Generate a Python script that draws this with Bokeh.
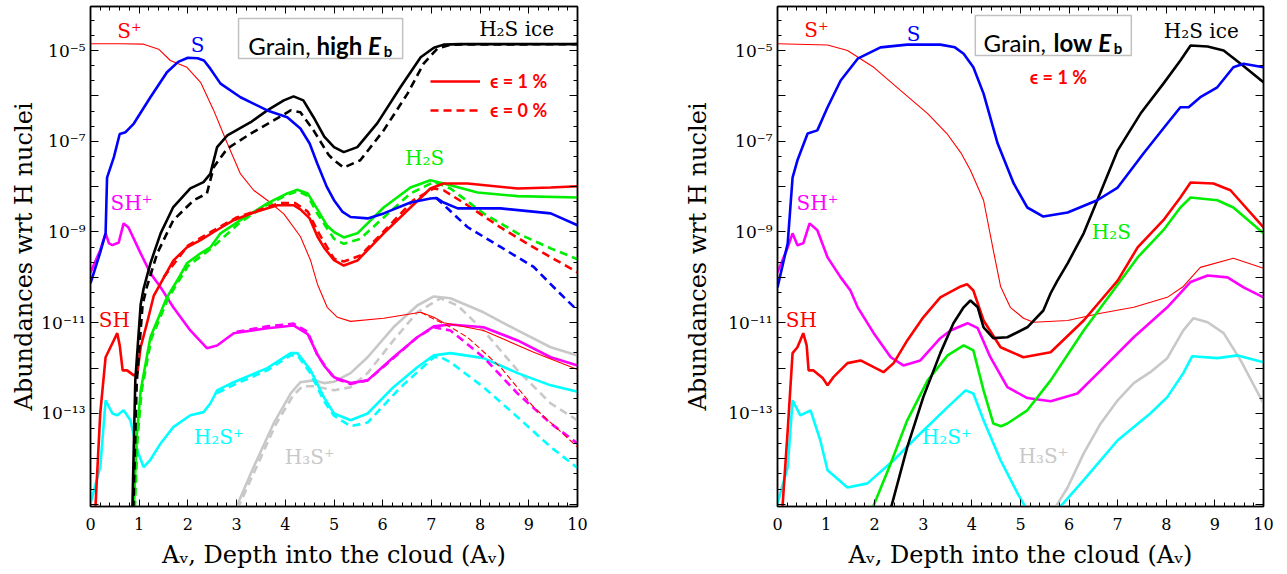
import numpy as np
from bokeh.plotting import figure
from bokeh.layouts import row
from bokeh.models import (FixedTicker, LinearAxis, LogAxis, CustomJSTickFormatter, Label,
                          BoxAnnotation, Legend, LegendItem, Range1d)
from bokeh.embed import file_html
from bokeh.resources import INLINE

# ---------------- data: (A_V, log10 abundance) ----------------
# Left panel: grain, high Eb  (solid: eps=1%, dashed: eps=0%)
HI_SP = [(0,-4.85),(0.6,-4.85),(1.09,-4.86),(1.4,-4.97),(1.64,-5.22),(1.98,-5.37),(2.26,-5.70),(2.53,-6.32),(2.81,-7.05),(3.08,-7.72),(3.35,-8.08),(3.63,-8.30),(3.97,-8.6),(4.31,-9.1),(4.52,-9.63),(4.66,-10.15),(4.86,-10.66),(5.07,-10.88),(5.34,-10.97),(6.02,-10.9),(6.37,-10.84),(6.78,-10.77),(7.05,-10.88),(7.25,-11.0),(8.07,-11.17),(9.1,-11.65),(10,-12.03)]
HI_SP_D = [(6.78,-10.77),(7.05,-10.92),(7.4,-11.1),(7.74,-11.32),(8.42,-11.98),(9.1,-12.86),(10,-13.74)]
HI_S = [(0,-10.13),(0.2,-9.45),(0.31,-9.03),(0.34,-7.8),(0.48,-7.35),(0.6,-6.84),(0.72,-6.8),(0.89,-6.61),(1.23,-6.03),(1.57,-5.48),(1.8,-5.25),(2.0,-5.16),(2.2,-5.17),(2.33,-5.22),(2.46,-5.4),(2.67,-5.73),(3.08,-6.03),(3.63,-6.32),(4.04,-6.47),(4.31,-6.72),(4.5,-7.05),(4.66,-7.5),(4.85,-8.0),(5.0,-8.3),(5.17,-8.55),(5.34,-8.67),(5.69,-8.7),(6.02,-8.59),(6.57,-8.35),(6.98,-8.26),(7.1,-8.25),(7.25,-8.35),(7.54,-8.48),(8.42,-8.48),(9.45,-8.59),(10,-8.85)]
HI_S_D = [(7.1,-8.25),(7.3,-8.45),(7.74,-8.89),(8.42,-9.33),(9.1,-9.77),(9.58,-10.29),(10,-10.73)]
HI_ICE = [(0.86,-15.1),(0.92,-12.27),(1.03,-10.6),(1.09,-10.25),(1.23,-9.69),(1.44,-9.03),(1.7,-8.45),(2.05,-8.04),(2.32,-7.9),(2.46,-7.72),(2.6,-7.13),(2.81,-6.87),(3.29,-6.58),(3.63,-6.32),(3.97,-6.1),(4.17,-6.01),(4.37,-6.1),(4.58,-6.47),(4.8,-6.9),(5.0,-7.13),(5.2,-7.24),(5.48,-7.13),(5.89,-6.6),(6.37,-5.8),(6.78,-5.15),(7.05,-4.94),(7.25,-4.87),(7.6,-4.86),(10,-4.86)]
HI_ICE_D = [(0.88,-15.1),(0.95,-12.3),(1.07,-10.6),(1.16,-10.2),(1.37,-9.47),(1.7,-8.74),(2.12,-8.3),(2.39,-8.15),(2.53,-7.57),(2.81,-7.16),(3.29,-6.83),(3.76,-6.54),(4.11,-6.32),(4.31,-6.36),(4.58,-6.76),(4.89,-7.3),(5.0,-7.42),(5.2,-7.58),(5.54,-7.42),(6.02,-6.76),(6.51,-5.95),(6.84,-5.29),(7.12,-4.96),(7.4,-4.87),(10,-4.86)]
HI_H2S = [(0.89,-15.1),(0.95,-13.5),(1.03,-12.5),(1.23,-11.32),(1.57,-10.44),(1.78,-10.07),(1.98,-9.69),(2.26,-9.47),(2.46,-9.34),(2.67,-9.03),(3.08,-8.74),(3.63,-8.37),(4.04,-8.15),(4.25,-8.07),(4.46,-8.15),(4.66,-8.5),(4.85,-8.85),(5.0,-9.0),(5.2,-9.12),(5.48,-9.03),(6.02,-8.46),(6.57,-8.02),(6.98,-7.86),(7.39,-7.97),(7.95,-8.13),(8.77,-8.21),(10,-8.24)]
HI_H2S_D = [(0.91,-15.1),(0.97,-13.5),(1.05,-12.5),(1.25,-11.35),(1.6,-10.45),(2.0,-9.75),(2.46,-9.38),(3.08,-8.78),(3.63,-8.4),(4.04,-8.18),(4.25,-8.1),(4.46,-8.2),(4.66,-8.6),(5.0,-9.15),(5.2,-9.26),(5.54,-9.15),(6.02,-8.68),(6.57,-8.15),(7.05,-7.9),(7.39,-8.04),(8.07,-8.59),(8.77,-9.03),(9.45,-9.36),(10,-9.6)]
HI_SH = [(0.1,-15.1),(0.2,-13.0),(0.31,-11.76),(0.41,-11.54),(0.55,-11.23),(0.6,-11.5),(0.66,-12.05),(0.75,-12.05),(0.89,-12.16),(0.96,-12.12),(1.03,-11.54),(1.16,-11.01),(1.3,-10.4),(1.44,-10.13),(1.7,-9.63),(1.98,-9.34),(2.26,-9.18),(2.53,-9.0),(2.94,-8.74),(3.35,-8.57),(3.84,-8.41),(4.17,-8.41),(4.31,-8.5),(4.5,-8.7),(4.66,-9.1),(4.8,-9.35),(5.0,-9.62),(5.2,-9.74),(5.48,-9.63),(6.02,-9.03),(6.57,-8.46),(6.98,-8.04),(7.25,-7.93),(7.74,-7.93),(8.77,-8.04),(9.45,-8.02),(10,-7.99)]
HI_SH_D = [(1.5,-10.0),(2.0,-9.3),(2.5,-8.98),(3.0,-8.68),(3.5,-8.5),(3.9,-8.36),(4.2,-8.36),(4.46,-8.55),(4.7,-9.05),(5.0,-9.59),(5.2,-9.65),(5.54,-9.52),(6.1,-8.9),(6.63,-8.3),(7.05,-8.04),(7.25,-8.08),(7.74,-8.41),(8.42,-8.9),(9.1,-9.34),(10,-9.89)]
HI_SHP = [(0,-9.89),(0.2,-9.4),(0.31,-9.03),(0.38,-9.25),(0.45,-9.29),(0.58,-9.23),(0.68,-8.81),(0.78,-8.9),(1.03,-9.47),(1.23,-9.91),(1.44,-10.22),(1.7,-10.66),(2.05,-11.17),(2.39,-11.56),(2.6,-11.5),(2.94,-11.23),(3.63,-11.12),(4.17,-11.06),(4.31,-11.15),(4.46,-11.25),(4.66,-11.7),(4.8,-11.95),(5.0,-12.2),(5.34,-12.33),(5.69,-12.27),(6.22,-11.76),(6.71,-11.32),(7.05,-11.08),(7.39,-11.04),(8.07,-11.1),(8.77,-11.39),(9.45,-11.76),(10,-11.94)]
HI_SHP_D = [(3.0,-11.2),(3.63,-11.08),(4.17,-11.02),(4.46,-11.2),(4.66,-11.72),(5.0,-12.22),(5.34,-12.35),(5.69,-12.27),(6.22,-11.78),(6.71,-11.32),(7.05,-11.1),(7.39,-11.17),(8.07,-11.76),(8.77,-12.56),(9.45,-13.22),(10,-13.66)]
HI_H2SP = [(0,-14.98),(0.2,-14.18),(0.31,-12.71),(0.45,-13.0),(0.55,-13.04),(0.68,-12.93),(0.82,-13.15),(0.96,-13.81),(1.09,-14.18),(1.23,-14.02),(1.44,-13.66),(1.7,-13.3),(2.05,-13.04),(2.32,-12.97),(2.46,-12.78),(2.6,-12.49),(2.94,-12.31),(3.63,-12.0),(4.11,-11.67),(4.25,-11.67),(4.52,-12.05),(4.79,-12.64),(5.0,-13.0),(5.34,-13.15),(5.69,-13.0),(6.22,-12.42),(6.71,-11.98),(7.05,-11.72),(7.39,-11.67),(8.07,-11.78),(8.77,-12.11),(9.45,-12.38),(10,-12.52)]
HI_H2SP_D = [(2.6,-12.55),(2.94,-12.37),(3.63,-12.05),(4.11,-11.72),(4.25,-11.72),(4.52,-12.12),(4.79,-12.72),(5.0,-13.05),(5.34,-13.28),(5.69,-13.2),(6.37,-12.42),(7.05,-11.76),(7.2,-11.76),(7.39,-11.87),(8.07,-12.42),(8.77,-13.08),(9.45,-13.74),(10,-14.2)]
HI_H3SP = [(2.98,-15.1),(3.35,-14.18),(3.76,-13.22),(4.11,-12.56),(4.31,-12.31),(4.58,-12.27),(4.8,-12.33),(5.0,-12.3),(5.34,-12.11),(5.69,-11.76),(6.22,-11.1),(6.71,-10.62),(7.05,-10.42),(7.39,-10.46),(8.07,-10.77),(8.77,-11.17),(9.45,-11.54),(10,-11.72)]
HI_H3SP_D = [(3.02,-15.1),(3.4,-14.2),(3.8,-13.25),(4.15,-12.62),(4.35,-12.4),(4.6,-12.4),(5.0,-12.49),(5.34,-12.42),(5.69,-12.11),(6.22,-11.39),(6.71,-10.77),(7.19,-10.46),(7.54,-10.62),(8.07,-11.17),(8.77,-12.05),(9.45,-12.78),(10,-13.15)]

# Right panel: grain, low Eb (eps=1%)
LO_SP = [(0,-4.85),(1.03,-4.88),(1.44,-5.0),(1.98,-5.37),(2.53,-5.88),(3.09,-6.39),(3.5,-6.85),(3.77,-7.25),(3.97,-7.64),(4.24,-8.3),(4.44,-9.4),(4.59,-10.2),(4.79,-10.66),(5.06,-10.9),(5.27,-10.99),(5.97,-10.95),(6.65,-10.79),(7.33,-10.66),(8.02,-10.44),(8.35,-10.2),(8.7,-9.78),(9.38,-9.58),(10,-9.8)]
LO_S = [(0,-10.22),(0.21,-9.25),(0.31,-7.8),(0.41,-7.42),(0.62,-6.83),(0.82,-6.76),(1.03,-6.25),(1.3,-5.66),(1.65,-5.18),(2.12,-4.93),(2.67,-4.87),(3.35,-4.87),(3.65,-4.93),(3.83,-5.07),(4.03,-5.37),(4.24,-5.95),(4.53,-7.05),(4.86,-7.93),(5.14,-8.46),(5.47,-8.66),(5.97,-8.57),(6.58,-8.3),(7.0,-8.02),(7.53,-7.27),(8.02,-6.61),(8.29,-6.25),(8.46,-6.25),(8.7,-6.03),(9.05,-5.81),(9.38,-5.37),(9.59,-5.29),(10,-5.37)]
LO_ICE = [(2.33,-15.1),(2.67,-13.74),(3.0,-12.64),(3.35,-11.67),(3.62,-11.01),(3.83,-10.66),(3.97,-10.51),(4.12,-10.66),(4.24,-11.1),(4.44,-11.34),(4.73,-11.32),(5.14,-11.1),(5.47,-10.73),(5.62,-10.35),(5.76,-10.07),(5.97,-9.69),(6.3,-9.03),(6.58,-8.3),(7.0,-7.2),(7.47,-6.39),(7.94,-5.73),(8.29,-5.22),(8.5,-4.89),(8.85,-4.91),(9.18,-5.0),(9.53,-5.29),(10,-5.7)]
LO_H2S = [(1.95,-15.1),(2.33,-14.1),(2.67,-13.15),(3.09,-12.27),(3.5,-11.72),(3.83,-11.5),(4.03,-11.61),(4.24,-12.49),(4.44,-13.22),(4.6,-13.28),(4.73,-13.22),(5.14,-12.93),(5.62,-12.27),(6.3,-11.17),(6.91,-10.29),(7.41,-9.56),(7.94,-8.96),(8.29,-8.46),(8.5,-8.24),(9.05,-8.3),(9.38,-8.46),(10,-9.03)]
LO_SH = [(0.1,-15.1),(0.21,-13.37),(0.31,-11.67),(0.41,-11.54),(0.53,-11.23),(0.6,-11.5),(0.64,-12.05),(0.74,-12.05),(0.93,-12.22),(1.03,-12.38),(1.15,-12.2),(1.44,-11.89),(1.71,-11.83),(1.98,-11.98),(2.18,-12.09),(2.39,-11.89),(2.67,-11.39),(3.0,-10.88),(3.35,-10.44),(3.77,-10.2),(3.9,-10.15),(4.03,-10.29),(4.24,-10.95),(4.59,-11.54),(5.06,-11.76),(5.62,-11.65),(6.3,-10.95),(7.0,-10.07),(7.41,-9.34),(7.94,-8.74),(8.29,-8.24),(8.5,-7.91),(8.97,-7.93),(9.32,-8.08),(10,-8.9)]
LO_SHP = [(0,-9.89),(0.21,-9.34),(0.31,-9.03),(0.41,-9.29),(0.53,-9.25),(0.66,-8.81),(0.82,-8.96),(1.03,-9.56),(1.3,-10.0),(1.5,-10.29),(1.65,-10.66),(1.98,-11.23),(2.33,-11.76),(2.59,-11.94),(2.94,-11.83),(3.35,-11.34),(3.56,-11.17),(3.91,-11.01),(4.12,-11.12),(4.38,-11.76),(4.73,-12.42),(5.14,-12.66),(5.62,-12.73),(6.17,-12.56),(6.65,-12.05),(7.33,-11.32),(8.02,-10.66),(8.5,-10.1),(8.85,-9.96),(9.26,-10.0),(9.59,-10.22),(10,-10.44)]
LO_H2SP = [(0,-14.98),(0.21,-14.18),(0.31,-12.71),(0.47,-13.04),(0.68,-12.93),(0.88,-13.59),(1.03,-14.25),(1.44,-14.63),(1.85,-14.54),(2.39,-14.03),(2.94,-13.44),(3.5,-12.86),(3.87,-12.49),(4.03,-12.56),(4.24,-13.15),(4.59,-14.03),(4.94,-14.76),(5.12,-15.1),(5.45,-15.6),(5.78,-15.1),(6.3,-14.47),(7.0,-13.59),(7.67,-13.0),(8.02,-12.64),(8.35,-12.11),(8.53,-11.74),(9.05,-11.78),(9.47,-11.72),(10,-11.87)]
LO_H3SP = [(5.7,-15.1),(5.97,-14.63),(6.3,-13.88),(6.65,-13.22),(7.0,-12.71),(7.33,-12.33),(7.67,-12.09),(8.02,-11.78),(8.35,-11.17),(8.56,-10.9),(8.85,-10.99),(9.18,-11.23),(9.53,-11.83),(10,-12.78)]

X_TICKS = list(range(0, 11))
Y_LABEL_EXP = [-5, -7, -9, -11, -13]

RED, BLUE, BLACK, GREEN = "#ff0000", "#0000ff", "#000000", "#00ee00"
MAGENTA, CYAN, GREY = "#ff00ff", "#00ffff", "#c8c8c8"

SERIF = "DejaVu Serif"
SANS = "Lato"

YLO, YHI = 10 ** -15.05, 10 ** -4.03


def xy(pairs):
    xs = [a for a, b in pairs]
    ys = [10.0 ** b for a, b in pairs]
    return xs, ys


def curve(p, pairs, color, width=2.6, dash="solid"):
    xs, ys = xy(pairs)
    return p.line(xs, ys, line_color=color, line_width=width, line_dash=dash)


fmt = CustomJSTickFormatter(args=dict(show=Y_LABEL_EXP), code="""
const e = Math.round(Math.log10(tick));
if (!show.includes(e)) { return ""; }
const m = {"-": "\\u207b", "0": "\\u2070", "1": "\\u00b9", "2": "\\u00b2", "3": "\\u00b3",
           "4": "\\u2074", "5": "\\u2075", "6": "\\u2076", "7": "\\u2077", "8": "\\u2078", "9": "\\u2079"};
return "10" + String(e).split("").map(c => m[c]).join("");
""")
blank = CustomJSTickFormatter(code='return "";')


def make_fig(left_border, right_border, frame_w, ylab_standoff):
    p = figure(x_range=Range1d(0, 10), y_range=Range1d(YLO, YHI), y_axis_type="log",
               frame_width=frame_w, frame_height=500,
               min_border_left=left_border, min_border_right=right_border,
               min_border_top=6, min_border_bottom=60,
               output_backend="svg", toolbar_location=None)
    p.grid.visible = False
    p.outline_line_color = "#222222"
    p.outline_line_width = 1.5
    p.background_fill_color = "white"

    xt = FixedTicker(ticks=X_TICKS, minor_ticks=[i * 0.2 for i in range(51)])
    dec = [10.0 ** k for k in range(-16, -3)]
    thirds = [10.0 ** (k / 3.0) for k in range(-48, -11) if k % 3 != 0]
    yt = FixedTicker(ticks=dec, minor_ticks=thirds)

    ax = p.xaxis[0]
    ax.ticker = xt
    ax.major_tick_in, ax.major_tick_out = 7, 0
    ax.minor_tick_in, ax.minor_tick_out = 4, 0
    ax.major_label_text_font = SERIF
    ax.major_label_text_font_size = "16px"
    ax.major_label_text_color = "black"
    ax.major_label_standoff = 11
    ax.axis_line_width = 1.5
    ax.axis_label = "A\u1d65, Depth into the cloud (A\u1d65)"
    ax.axis_label_text_font = SERIF
    ax.axis_label_text_font_size = "24px"
    ax.axis_label_text_font_style = "normal"
    ax.axis_label_text_color = "black"
    ax.axis_label_standoff = 8

    ay = p.yaxis[0]
    ay.ticker = yt
    ay.formatter = fmt
    ay.major_tick_in, ay.major_tick_out = 8, 0
    ay.minor_tick_in, ay.minor_tick_out = 4, 0
    ay.major_label_text_font = SERIF
    ay.major_label_text_font_size = "17px"
    ay.major_label_text_color = "black"
    ay.major_label_standoff = 5
    ay.axis_line_width = 1.5
    ay.axis_label = "Abundances wrt H nuclei"
    ay.axis_label_text_font = SERIF
    ay.axis_label_text_font_size = "24px"
    ay.axis_label_text_font_style = "normal"
    ay.axis_label_text_color = "black"
    ay.axis_label_standoff = ylab_standoff

    top = LinearAxis(ticker=xt, formatter=blank, major_tick_in=7, major_tick_out=0,
                     minor_tick_in=4, minor_tick_out=0, major_label_standoff=0, axis_line_width=1.5)
    right = LogAxis(ticker=yt, formatter=blank, major_tick_in=8, major_tick_out=0,
                    minor_tick_in=4, minor_tick_out=0, major_label_standoff=0, axis_line_width=1.5)
    p.add_layout(top, "above")
    p.add_layout(right, "right")
    return p


def species_label(p, x, ylog, text, color):
    p.add_layout(Label(x=x, y=10 ** ylog, text=text, text_color=color, text_font=SERIF,
                       text_font_size="20px", text_align="center", text_baseline="middle"))


def grain_box(p, left, right, ytop, ybot, pieces):
    p.add_layout(BoxAnnotation(left=left, right=right, top=10 ** ytop, bottom=10 ** ybot,
                               fill_color="white", fill_alpha=1.0, line_color="#333333",
                               line_width=1.5))
    for x, ylog, text, style, size in pieces:
        p.add_layout(Label(x=x, y=10 ** ylog, text=text, text_font=SANS, text_font_size=size,
                           text_font_style=style, text_color="black", text_baseline="alphabetic",
                           text_align="left"))


# ---------------- left panel ----------------
p1 = make_fig(90, 80, 487, 0)
curve(p1, HI_H3SP_D, GREY, dash="8 5")
curve(p1, HI_H3SP, GREY)
curve(p1, HI_H2SP, CYAN)
curve(p1, HI_H2SP_D, CYAN, dash="8 5")
curve(p1, HI_SHP, MAGENTA)
curve(p1, HI_SHP_D, MAGENTA, dash="8 5")
curve(p1, HI_SP, RED, width=1.1)
curve(p1, HI_SP_D, RED, width=1.1, dash="6 3")
curve(p1, HI_H2S, GREEN)
curve(p1, HI_H2S_D, GREEN, dash="8 5")
r_sh = curve(p1, HI_SH, RED)
r_sh_d = curve(p1, HI_SH_D, RED, dash="8 5")
curve(p1, HI_ICE, BLACK)
curve(p1, HI_ICE_D, BLACK, dash="8 5")
curve(p1, HI_S, BLUE)
curve(p1, HI_S_D, BLUE, dash="8 5")

species_label(p1, 0.80, -4.56, "S\u207a", RED)
species_label(p1, 2.20, -4.87, "S", BLUE)
species_label(p1, 0.84, -8.37, "SH\u207a", MAGENTA)
species_label(p1, 6.86, -7.36, "H\u2082S", GREEN)
species_label(p1, 8.75, -4.52, "H\u2082S ice", BLACK)
species_label(p1, 0.49, -10.95, "SH", RED)
species_label(p1, 2.63, -13.52, "H\u2082S\u207a", CYAN)
species_label(p1, 4.50, -13.96, "H\u2083S\u207a", GREY)

grain_box(p1, 3.04, 6.41, -4.295, -5.176,
          [(3.24, -4.89, "Grain,", "normal", "24px"),
           (4.64, -4.89, "high", "bold", "24px"),
           (5.70, -4.89, "E", "bold italic", "24px"),
           (6.02, -5.0, "b", "bold", "15px")])

leg = Legend(items=[LegendItem(label="\u03f5 = 1 %", renderers=[r_sh]),
                    LegendItem(label="\u03f5 = 0 %", renderers=[r_sh_d])],
             location=(340, 385), orientation="vertical",
             glyph_width=50, glyph_height=20, label_height=20, label_standoff=10, spacing=7,
             padding=0, margin=0, border_line_alpha=0, background_fill_alpha=0,
             label_text_color=RED, label_text_font=SANS, label_text_font_style="bold",
             label_text_font_size="18px")
p1.add_layout(leg)

# ---------------- right panel ----------------
p2 = make_fig(120, 16, 486, 13)
curve(p2, LO_H3SP, GREY)
curve(p2, LO_H2SP, CYAN)
curve(p2, LO_SHP, MAGENTA)
curve(p2, LO_SP, RED, width=1.1)
curve(p2, LO_H2S, GREEN)
curve(p2, LO_SH, RED)
curve(p2, LO_ICE, BLACK)
curve(p2, LO_S, BLUE)

species_label(p2, 0.80, -4.54, "S\u207a", RED)
species_label(p2, 2.80, -4.63, "S", BLUE)
species_label(p2, 0.82, -8.37, "SH\u207a", MAGENTA)
species_label(p2, 8.72, -4.56, "H\u2082S ice", BLACK)
species_label(p2, 6.87, -9.00, "H\u2082S", GREEN)
species_label(p2, 0.49, -10.95, "SH", RED)
species_label(p2, 3.48, -13.52, "H\u2082S\u207a", CYAN)
species_label(p2, 5.47, -13.94, "H\u2083S\u207a", GREY)

grain_box(p2, 4.07, 7.28, -4.229, -5.11,
          [(4.24, -4.83, "Grain,", "normal", "24px"),
           (5.68, -4.83, "low", "bold", "24px"),
           (6.60, -4.83, "E", "bold italic", "24px"),
           (6.92, -4.94, "b", "bold", "15px")])
p2.add_layout(Label(x=5.78, y=10 ** -5.59, text="\u03f5 = 1 %", text_color=RED, text_font=SANS,
                    text_font_style="bold", text_font_size="18px", text_align="center",
                    text_baseline="middle"))

layout = row(p1, p2)
open("out.html", "w").write(file_html(layout, INLINE))
